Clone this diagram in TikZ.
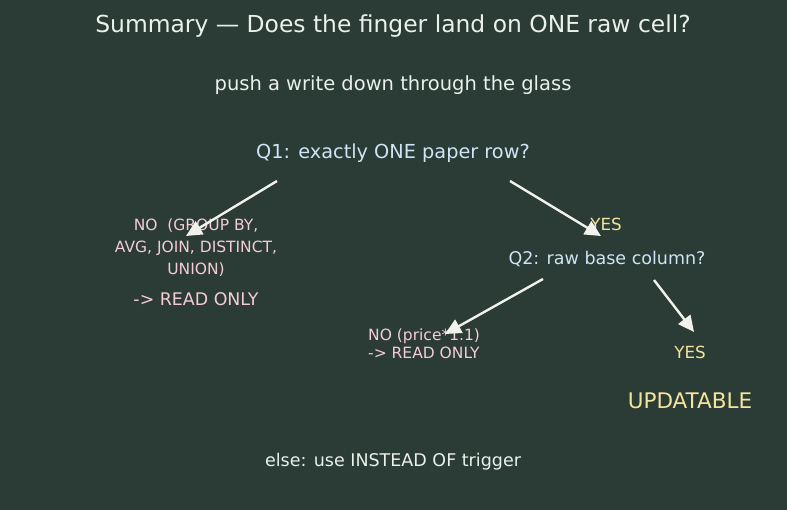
\documentclass[tikz,border=0pt]{standalone}
\usepackage{fontspec}
\setmainfont{DejaVu Sans}
\usetikzlibrary{arrows.meta}
\definecolor{bg}{HTML}{2B3B35}
\definecolor{titlec}{HTML}{EAF0EA}
\definecolor{qc}{HTML}{CFE4F4}
\definecolor{noc}{HTML}{F4CCD6}
\definecolor{yesc}{HTML}{F4E49C}
\definecolor{arrc}{HTML}{F2F2EC}
\tikzset{
  txt/.style={inner sep=0pt, anchor=center},
  arr/.style={draw=arrc, line width=2.4pt, -{Triangle[length=16pt,width=15pt]}},
}
\begin{document}
\begin{tikzpicture}[x=1pt,y=-1pt]
\fill[bg] (0,0) rectangle (787,510);
\useasboundingbox (0,0) rectangle (787,510);
\node[txt, text=titlec, font=\fontsize{23.4}{28}\selectfont] (title) at (393,26) {Summary — Does the finger land on ONE raw cell?};
\node[txt, text=titlec, font=\fontsize{19.5}{24}\selectfont] (sub) at (393,85) {push a write down through the glass};
\node[txt, text=qc, font=\fontsize{19.3}{24}\selectfont] (q1) at (393,153) {Q1: exactly ONE paper row?};
\node[txt, text=noc, font=\fontsize{15.5}{22}\selectfont, align=center] (no1) at (196,248) {NO\ \ (GROUP BY,\\AVG, JOIN, DISTINCT,\\UNION)};
\node[txt, text=noc, font=\fontsize{17.4}{20}\selectfont] (ro1) at (196,299) {-> READ ONLY};
\node[txt, text=yesc, font=\fontsize{16.7}{20}\selectfont] (yes1) at (606,224.5) {YES};
\node[txt, text=qc, font=\fontsize{17.5}{20}\selectfont] (q2) at (607,258.5) {Q2: raw base column?};
\node[txt, text=noc, font=\fontsize{15.5}{18}\selectfont, align=left, anchor=west] (no2) at (368,344) {NO (price*1.1)\\-> READ ONLY};
\node[txt, text=yesc, font=\fontsize{16.7}{20}\selectfont] (yes2) at (690,352.5) {YES};
\node[txt, text=yesc, font=\fontsize{21.5}{26}\selectfont] (upd) at (690,400.5) {UPDATABLE};
\node[txt, text=titlec, font=\fontsize{17.5}{20}\selectfont] (else) at (393,461.5) {else: use INSTEAD OF trigger};
\coordinate (a1s) at (277,181);
\coordinate (a1e) at (186,236);
\coordinate (a2s) at (510,181);
\coordinate (a2e) at (601,236);
\coordinate (a3s) at (543,279);
\coordinate (a3e) at (445,334);
\coordinate (a4s) at (654,280);
\coordinate (a4e) at (694,332);
\draw[arr] (a1s) -- (a1e);
\draw[arr] (a2s) -- (a2e);
\draw[arr] (a3s) -- (a3e);
\draw[arr] (a4s) -- (a4e);
\end{tikzpicture}
\end{document}
